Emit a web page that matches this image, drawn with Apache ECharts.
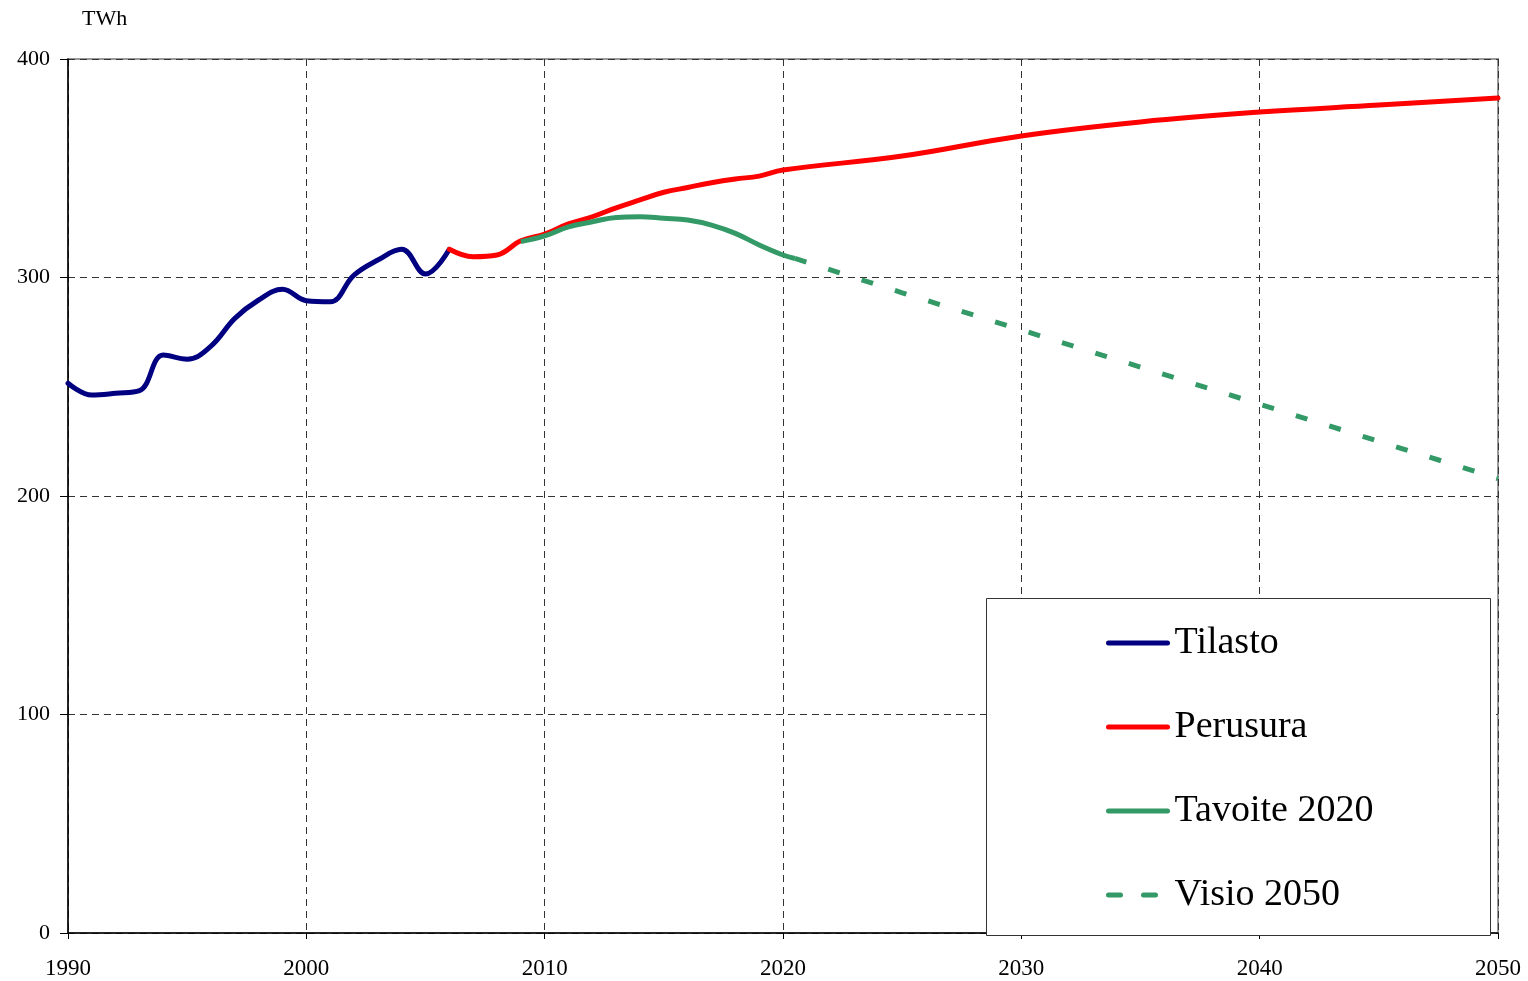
<!DOCTYPE html>
<html>
<head>
<meta charset="utf-8">
<script src="https://cdn.jsdelivr.net/npm/echarts@6/dist/echarts.min.js"></script>
<style>html,body{margin:0;padding:0;background:#fff;}#c{width:1528px;height:981px;}</style>
</head>
<body>
<div id="c"></div>
<script>
const xTicks = [1990, 2000, 2010, 2020, 2030, 2040, 2050];
const yTicks = [0, 100, 200, 300, 400];
const tilastoYears = [1990,1991,1992,1993,1994,1995,1996,1997,1998,1999,2000,2001,2002,2003,2004,2005,2006];
const tilastoValues = [251.6,246.2,247,248.2,264.5,262.6,268.6,281.3,289.7,294.6,289.4,288.9,301.1,308,312.9,301.6,312.9];
const perusuraYears = [2006,2007,2008,2009,2010,2011,2012,2013,2014,2015,2016,2017,2018,2019,2020,2025,2030,2035,2040,2045,2050];
const perusuraValues = [312.9,309.5,310.3,316.8,319.9,324.5,327.8,331.9,335.5,339,341.2,343.4,345.1,346.4,349.2,355.6,364.8,371.2,375.7,378.9,382.2];
const tavoiteYears = [2009,2010,2011,2012,2013,2014,2015,2016,2017,2018,2019,2020,2020.5];
const tavoiteValues = [316.4,319,323.2,325.5,327.5,327.8,327.1,326.3,324,320.2,314.9,310.3,308.7];
const visioYears = [2020.5,2025,2030,2035,2040,2045,2050];
const visioValues = [308.7,293,276,259,242,225,208];
const names = ['Tilasto','Perusura','Tavoite 2020','Visio 2050'];

const pairs = (xs, ys) => xs.map((x, i) => [x, ys[i]]);
const font = '"Liberation Serif", "Times New Roman", serif';

const chart = echarts.init(document.getElementById('c'));
chart.setOption({
  animation: false,
  backgroundColor: '#fff',
  title: {
    text: 'TWh', left: 77, top: 3,
    textStyle: { fontFamily: font, fontSize: 22, fontWeight: 'normal', color: '#000' }
  },
  grid: {
    left: 68, right: 30, top: 59, bottom: 48,
    show: true, borderColor: '#999', borderWidth: 2, backgroundColor: 'transparent'
  },
  xAxis: {
    type: 'value', min: 1990, max: 2050, interval: 10,
    axisLine: { show: true, onZero: false, lineStyle: { color: '#000', width: 1.5 } },
    axisTick: { show: true, length: 6, lineStyle: { color: '#000' } },
    axisLabel: { margin: 24, fontFamily: font, fontSize: 23, color: '#000',
      formatter: v => xTicks.includes(v) ? String(v) : '' },
    splitLine: { show: true, lineStyle: { color: '#333', type: [7, 5], width: 1 } }
  },
  yAxis: {
    type: 'value', min: 0, max: 400, interval: 100,
    axisLine: { show: true, lineStyle: { color: '#000', width: 1.5 } },
    axisTick: { show: true, length: 8, lineStyle: { color: '#000' } },
    axisLabel: { margin: 18, fontFamily: font, fontSize: 22, color: '#000',
      formatter: v => yTicks.includes(v) ? String(v) : '' },
    splitLine: { show: true, lineStyle: { color: '#333', type: [7, 5], width: 1 } }
  },
  graphic: [{
    type: 'rect', z: 50, left: 986, top: 598,
    shape: { width: 504, height: 337 },
    style: { fill: '#fff', stroke: '#333', lineWidth: 1 }
  }],
  legend: {
    z: 60, orient: 'vertical', left: 1106, top: 624, padding: 0,
    itemWidth: 59, itemHeight: 14, itemGap: 46,
    itemStyle: { opacity: 0 },
    lineStyle: { width: 5, cap: 'round' },
    textStyle: { fontFamily: font, fontSize: 38, color: '#000', lineHeight: 38, padding: [0, 0, 0, 2] },
    data: names
  },
  series: [
    { name: names[0], type: 'line', smooth: 0.4, showSymbol: false, symbol: 'none',
      data: pairs(tilastoYears, tilastoValues),
      lineStyle: { color: '#000080', width: 5, cap: 'round' }, itemStyle: { color: '#000080' } },
    { name: names[1], type: 'line', smooth: 0.4, showSymbol: false, symbol: 'none',
      data: pairs(perusuraYears, perusuraValues),
      lineStyle: { color: '#ff0000', width: 5, cap: 'round' }, itemStyle: { color: '#ff0000' } },
    { name: names[2], type: 'line', smooth: 0.4, showSymbol: false, symbol: 'none',
      data: pairs(tavoiteYears, tavoiteValues),
      lineStyle: { color: '#339966', width: 5, cap: 'butt' }, itemStyle: { color: '#339966' } },
    { name: names[3], type: 'line', smooth: false, showSymbol: false, symbol: 'none',
      data: pairs(visioYears, visioValues),
      lineStyle: { color: '#339966', width: 5, type: [12, 23] }, itemStyle: { color: '#339966' } }
  ]
});
</script>
</body>
</html>
